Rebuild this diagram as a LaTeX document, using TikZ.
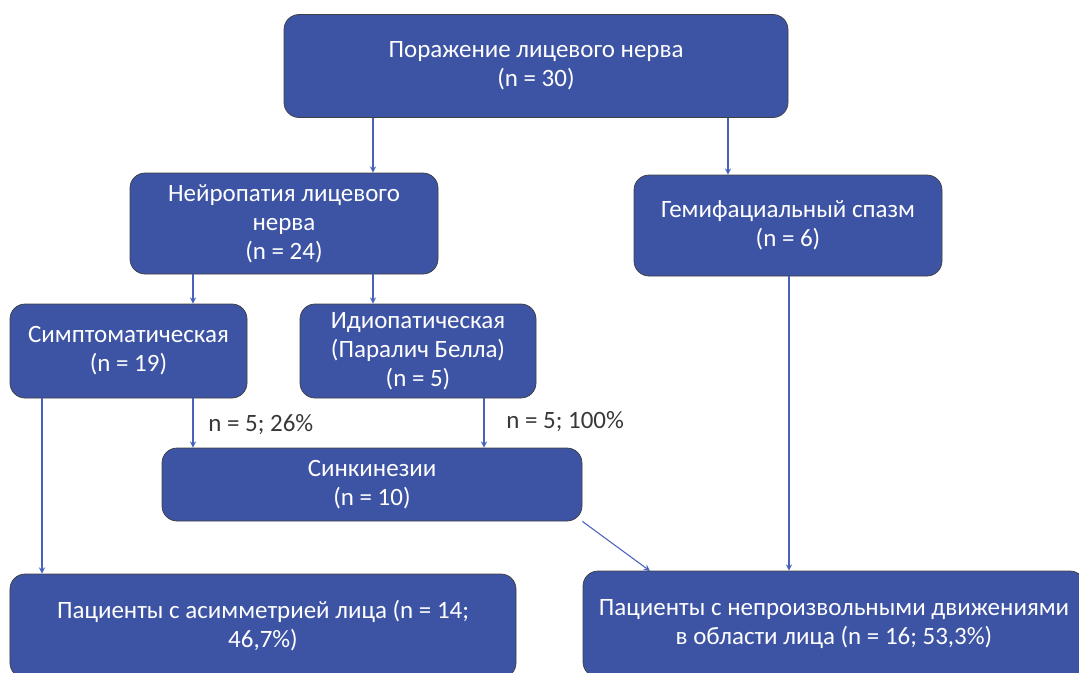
\documentclass[tikz,border=0pt]{standalone}
\usepackage{fontspec}
\setmainfont{Carlito}
\usetikzlibrary{arrows}
\definecolor{boxblue}{RGB}{61,83,164}
\definecolor{lineblue}{RGB}{70,98,188}
\definecolor{labelgray}{RGB}{56,56,56}
\tikzstyle{block} = [rectangle, rounded corners=0.3cm, text centered, align=center, draw=black!75, thin, fill=boxblue, text=white, inner sep=0, font=\fontsize{14.2}{16.5}\selectfont]
\tikzstyle{arrow} = [lineblue, semithick, ->, >=stealth]
\tikzstyle{note} = [anchor=west, text=labelgray, inner sep=0, font=\fontsize{14.2}{16.5}\selectfont]

\begin{document}
\begin{tikzpicture}
\useasboundingbox (0,0) rectangle (21.58,-13.44);

\node[block, minimum width=10.08cm, minimum height=2.06cm] (lesion) at (10.72,-1.32) {Поражение лицевого нерва\\(n = 30)};
\node[block, minimum width=6.16cm, minimum height=2.02cm] (neuro) at (5.68,-4.47) {Нейропатия лицевого\\нерва\\(n = 24)};
\node[block, minimum width=6.16cm, minimum height=2.02cm] (spasm) at (15.76,-4.51) {Гемифациальный спазм\\(n = 6)};
\node[block, minimum width=4.74cm, minimum height=1.88cm] (sympt) at (2.57,-7.02) {Симптоматическая\\(n = 19)};
\node[block, minimum width=4.72cm, minimum height=1.88cm] (idio) at (8.36,-7.02) {Идиопатическая\\(Паралич Белла)\\(n = 5)};
\node[block, minimum width=8.40cm, minimum height=1.46cm] (synk) at (7.44,-9.69) {Синкинезии\\(n = 10)};
\node[block, minimum width=10.12cm, minimum height=2.08cm] (asym) at (5.26,-12.52) {Пациенты с асимметрией лица (n = 14;\\46,7\%)};
\node[block, minimum width=10.04cm, minimum height=2.12cm] (invol) at (16.68,-12.48) {Пациенты с непроизвольными движениями\\в области лица (n = 16; 53,3\%)};

% columns of the connectors
\coordinate (colA) at (7.46,0);
\coordinate (colB) at (14.56,0);
\coordinate (colC) at (3.86,0);
\coordinate (colD) at (0.84,0);
\coordinate (colE) at (9.68,0);
\coordinate (colF) at (15.78,0);
\coordinate (synkin) at (13.0,-11.42);

\draw[arrow] (lesion.south -| colA) -- (neuro.north -| colA);
\draw[arrow] (lesion.south -| colB) -- (spasm.north -| colB);
\draw[arrow] (neuro.south -| colC) -- (sympt.north -| colC);
\draw[arrow] (neuro.south -| colA) -- (idio.north -| colA);
\draw[arrow] (sympt.south -| colD) -- (asym.north -| colD);
\draw[arrow] (sympt.south -| colC) -- (synk.north -| colC);
\draw[arrow] (idio.south -| colE) -- (synk.north -| colE);
\draw[arrow] (synk.south east) -- (synkin);
\draw[arrow] (spasm.south -| colF) -- (invol.north -| colF);

\node[note] (pctA) at (4.16,-8.50) {n = 5; 26\%};
\node[note] (pctB) at (10.12,-8.44) {n = 5; 100\%};
\end{tikzpicture}
\end{document}
